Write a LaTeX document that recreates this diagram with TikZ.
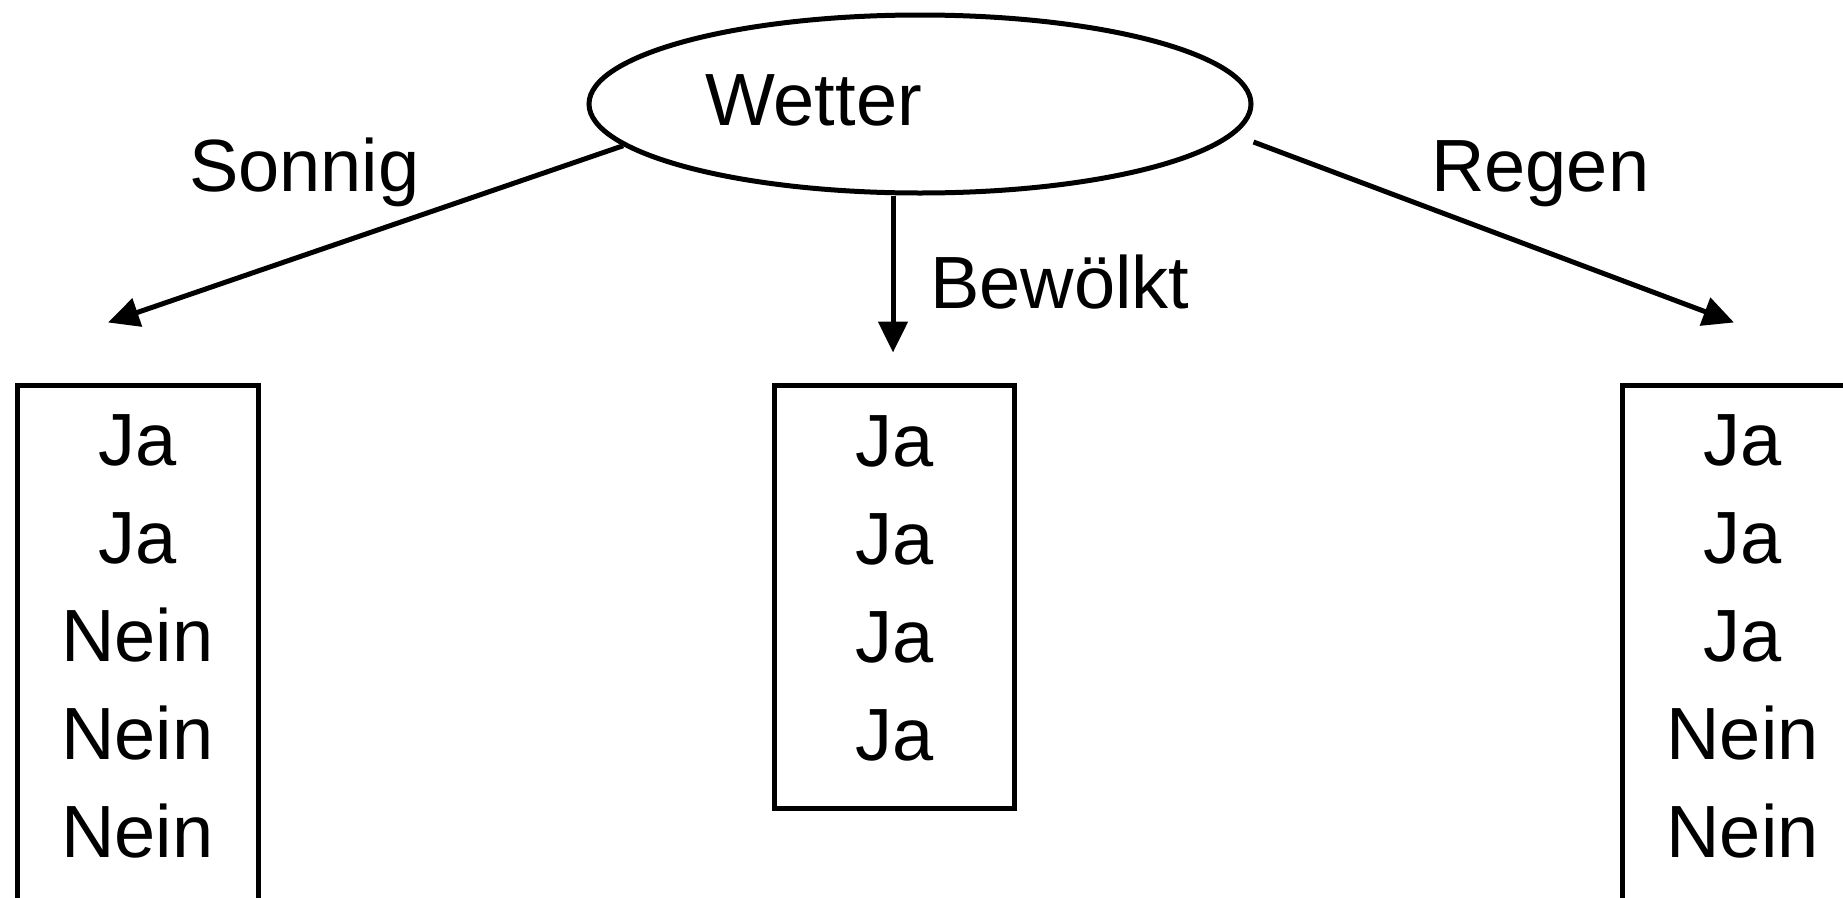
\documentclass[tikz,border=0pt]{standalone}
\usepackage{fontspec}
\setmainfont{Liberation Sans}
\usetikzlibrary{shapes.geometric,arrows.meta,calc}
\begin{document}
\begin{tikzpicture}[x=1pt,y=-1pt,
  txt/.style={font=\fontsize{74}{98}\selectfont, inner sep=0pt},
  leafbox/.style={draw, line width=5pt, rectangle, align=center, inner sep=0pt,
    font=\fontsize{74}{98}\selectfont, text depth=17.5pt},
  conn/.style={line width=5pt, -{Triangle[length=31pt,width=29pt]}}
]
\useasboundingbox (0,0) rectangle (1843,897);
\node[ellipse, draw, line width=5pt, minimum width=662pt, minimum height=178pt, inner sep=0pt] (wetter) at (920,104) {};
\node[txt, anchor=base west] (wt) at (705,125) {Wetter};

\node[leafbox, minimum width=241pt, minimum height=520pt] (lbox) at (137.5,645) {Ja\\Ja\\Nein\\Nein\\Nein};
\node[leafbox, minimum width=240pt, minimum height=423pt] (mbox) at (894.5,596.5) {Ja\\Ja\\Ja\\Ja};
\node[leafbox, minimum width=241pt, minimum height=520pt] (rbox) at (1742.5,645) {Ja\\Ja\\Ja\\Nein\\Nein};

\coordinate (lend) at ([xshift=-29.5pt,yshift=60pt]lbox.north);
\coordinate (rend) at ([xshift=-8.5pt,yshift=60pt]rbox.north);
\coordinate (mend) at ([xshift=-1.5pt,yshift=30pt]mbox.north);

\draw[conn] (wetter.188) -- (lend);
\draw[conn] ($(wetter.east)+(0,38)$) -- (rend);
\draw[conn] (wetter.south -| mend) -- (mend);

\node[txt, anchor=base west] (sonnig) at (189,191) {Sonnig};
\node[txt, anchor=base west] (bew) at (930,308) {Bewölkt};
\node[txt, anchor=base west] (regen) at (1431,191) {Regen};
\end{tikzpicture}
\end{document}
